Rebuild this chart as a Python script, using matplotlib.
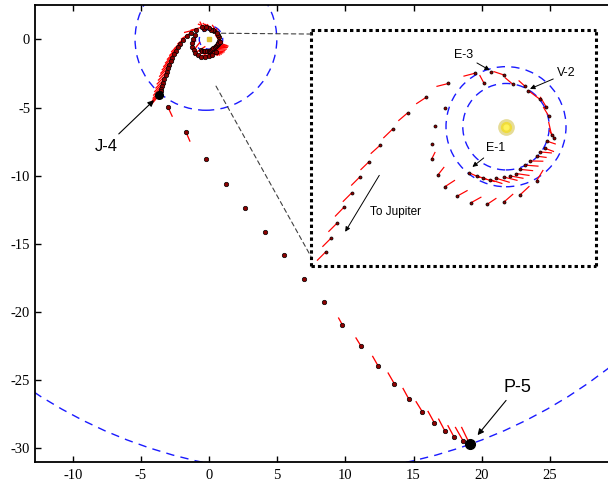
import matplotlib.pyplot as plt
import numpy as np
from matplotlib.patches import Circle, ConnectionPatch

plt.rcParams['font.family'] = 'Liberation Serif'
plt.rcParams['axes.unicode_minus'] = False

# orbits in AU: Venus, Earth, Jupiter, Pluto
orbit_cx = [0.0, 0.0, -0.23, 7.0]
orbit_cy = [0.0, 0.0, 0.0, 4.4]
orbit_r = [0.72, 1.0, 5.2, 36.2]

# trajectory samples (AU) and thrust vector at each sample (0 = coast)
traj_x = [-0.61, -0.49, -0.38, -0.27, -0.16, -0.03, 0.07, 0.17, 0.23, 0.32, 0.40, 0.51, 0.57, 0.65, 0.68,
          0.36, -0.37,
          -1.02, -1.18, -1.24, -1.24, -1.14, -1.02, -0.82, -0.59, -0.31, -0.03, 0.24, 0.51,
          0.76, 0.80, 0.71, 0.67, 0.56, 0.32, 0.11, -0.03, -0.25,
          -0.52, -0.96, -1.33, -1.64, -1.89, -2.10, -2.28, -2.43, -2.57, -2.70, -2.81, -2.91, -3.00,
          -3.09, -3.18, -3.27, -3.36, -3.44, -3.50, -3.55, -3.59, -3.62, -3.64,
          -3.03, -1.69, -0.22, 1.25, 2.66, 4.11, 5.50, 6.93, 8.41,
          9.78, 11.15, 12.40, 13.60, 14.65, 15.65, 16.53, 17.31, 17.99, 18.64, 19.13]
traj_y = [-0.77, -0.82, -0.86, -0.88, -0.86, -0.84, -0.82, -0.78, -0.71, -0.64, -0.57, -0.49, -0.42, -0.36, -0.24,
          0.60, 0.73,
          0.31, 0.01, -0.28, -0.54, -0.81, -1.00, -1.16, -1.27, -1.29, -1.25, -1.13, -0.90,
          -0.14, -0.18, 0.18, 0.33, 0.46, 0.67, 0.71, 0.86, 0.905,
          0.89, 0.72, 0.49, 0.23, -0.04, -0.31, -0.58, -0.83, -1.10, -1.34, -1.60, -1.85, -2.08,
          -2.36, -2.64, -2.92, -3.18, -3.42, -3.62, -3.80, -3.94, -4.03, -4.09,
          -4.94, -6.80, -8.76, -10.62, -12.38, -14.16, -15.82, -17.59, -19.27,
          -20.94, -22.50, -23.95, -25.27, -26.37, -27.32, -28.13, -28.74, -29.20, -29.45, -29.70]
thrust_u = [0.71, 0.67, 0.78, 0.84, 0.89, 0.89, 0.89, 0.89, 0.89, 0.89, 0.89, 0.67, 0.78, 0.60, 0.60,
            0.0, -0.28,
            0.0, 0.0, 0.0, 0.24, 0.44, 0.68, 0.72, 0.72, 0.60, 0.60, 0.60, 0.44,
            -0.20, -0.32, -0.36, -0.40, -0.80, -0.44, -0.52, -0.72, 0.0,
            -0.76, -0.80, -0.67, -0.62, -0.62, -0.62, -0.58, -0.60, -0.60, -0.60, -0.60, -0.60, -0.60,
            -0.60, -0.60, -0.60, -0.60, -0.60, -0.58, -0.58, -0.56, -0.56, 0.0,
            0.31, 0.27, 0.0, 0.0, 0.0, 0.0, 0.0, 0.0, 0.0,
            -0.27, -0.36, -0.38, -0.44, -0.40, -0.44, -0.44, -0.44, -0.44, -0.53, -0.56]
thrust_v = [-0.31, -0.22, -0.22, -0.27, -0.27, -0.22, -0.16, -0.13, -0.09, -0.07, -0.02, -0.09, -0.07, -0.22, -0.20,
            0.0, 0.52,
            0.0, 0.0, 0.0, 0.48, 0.56, 0.44, 0.40, 0.40, 0.40, 0.52, 0.56, 0.72,
            0.88, 0.48, 0.60, 0.67, 0.60, 0.40, 0.44, 0.24, 0.0,
            -0.20, -0.20, -0.44, -0.53, -0.60, -0.56, -0.56, -0.60, -0.60, -0.62, -0.60, -0.60, -0.60,
            -0.60, -0.60, -0.62, -0.62, -0.64, -0.66, -0.66, -0.68, -0.68, 0.0,
            -0.67, -0.64, 0.0, 0.0, 0.0, 0.0, 0.0, 0.0, 0.0,
            0.49, 0.58, 0.67, 0.76, 0.73, 0.71, 0.80, 0.84, 0.82, 0.93, 1.16]

# flyby events
event_names = ['E-1', 'V-2', 'E-3', 'J-4', 'P-5']
event_x = [-0.61, 0.36, -0.25, -3.64, 19.13]
event_y = [-0.77, 0.60, 0.905, -4.09, -29.70]

ORBIT_COLOR = '#1a1aff'
SANS = 'Liberation Sans'


def draw_orbits(a):
    for cx, cy, r in zip(orbit_cx, orbit_cy, orbit_r):
        a.add_patch(Circle((cx, cy), r, fill=False, ec=ORBIT_COLOR, lw=1.0,
                           ls=(0, (6, 4.5)), zorder=2))


def draw_traj(a, ms, w):
    x = np.array(traj_x)
    y = np.array(traj_y)
    u = np.array(thrust_u)
    v = np.array(thrust_v)
    burn = (u != 0) | (v != 0)
    a.quiver(x[burn], y[burn], u[burn], v[burn], angles='uv', scale_units='inches',
             scale=6.67, units='dots', width=w, headwidth=0, headlength=0,
             headaxislength=0, pivot='tail', color='red', zorder=3)
    a.plot(x, y, 'o', ls='none', ms=ms, mfc='#8b0000', mec='k', mew=0.5, zorder=4)


fig = plt.figure(figsize=(6.08, 4.82), dpi=100)
ax = fig.add_axes([0.0576, 0.0415, 0.9424, 0.9481])
ax.set_xlim(-12.77, 29.27)
ax.set_ylim(-31.0, 2.52)

draw_orbits(ax)
draw_traj(ax, 3.2, 1.3)
ax.plot(0, 0, 's', ms=3.5, color='#e0c030', zorder=5)
ax.plot(event_x[3], event_y[3], 'o', ms=5.5, color='k', zorder=5)
ax.plot(event_x[4], event_y[4], 'o', ms=7, color='k', zorder=5)

ax.set_xticks(np.arange(-10, 26, 5))
ax.set_yticks(np.arange(-30, 1, 5))
ax.tick_params(direction='in', length=4.5, width=1, top=True, right=False, labelsize=10.5, pad=5)
ax.tick_params(axis='y', pad=3.5)
for s in ['left', 'bottom', 'top']:
    ax.spines[s].set_linewidth(1.3)
ax.spines['right'].set_visible(False)

arrow = dict(arrowstyle='-|>', color='k', lw=0.8, mutation_scale=9, shrinkA=2, shrinkB=0)
ax.annotate(event_names[3], xy=(-4.04, -4.46), xytext=(-7.56, -7.83), fontsize=12,
            family=SANS, ha='center', va='center', arrowprops=arrow)
ax.annotate(event_names[4], xy=(19.7, -29.03), xytext=(22.6, -25.5), fontsize=13,
            family=SANS, ha='center', va='center', arrowprops=arrow)

# zoomed inset of the inner solar system
axins = fig.add_axes([0.5115, 0.4481, 0.4688, 0.4896])
axins.set_xlim(-3.25, 1.5)
axins.set_ylim(-2.32, 1.61)
axins.set_xticks([])
axins.set_yticks([])
for s in axins.spines.values():
    s.set_linewidth(2.2)
    s.set_linestyle((0, (1.1, 1.0)))
    s.set_capstyle('butt')

draw_orbits(axins)
draw_traj(axins, 2.2, 1.2)
axins.plot(0, 0, 'o', ms=11, color='#e6dc96', zorder=5)
axins.plot(0, 0, 'o', ms=7, color='#f0dc3c', zorder=5)
axins.plot(0, 0, 'o', ms=3.5, color='#fff35a', zorder=5)

small = dict(arrowstyle='-|>', color='k', lw=0.7, mutation_scale=7, shrinkA=1, shrinkB=0)
axins.annotate(event_names[2], xy=(-0.27, 0.94), xytext=(-0.71, 1.19), fontsize=9,
               family=SANS, ha='center', va='center', arrowprops=small)
axins.annotate(event_names[1], xy=(0.40, 0.63), xytext=(1.01, 0.89), fontsize=9,
               family=SANS, ha='center', va='center', arrowprops=small)
axins.annotate(event_names[0], xy=(-0.56, -0.67), xytext=(-0.17, -0.36), fontsize=9,
               family=SANS, ha='center', va='center', arrowprops=small)
axins.text(-1.85, -1.42, 'To Jupiter', fontsize=8.5, family=SANS, ha='center', va='center')
axins.annotate('', xy=(-2.68, -1.75), xytext=(-2.1, -0.79), arrowprops=small)

# connector lines from the inner region to the inset
for xa, ya, yb in [(0.9, 0.45, 0.983), (0.51, -3.43, 0.04)]:
    con = ConnectionPatch(xyA=(xa, ya), coordsA=ax.transData, xyB=(0, yb),
                          coordsB=axins.transAxes, color='0.25', lw=0.8, ls=(0, (4, 3)))
    fig.add_artist(con)

fig.savefig('out.png', dpi=100)
